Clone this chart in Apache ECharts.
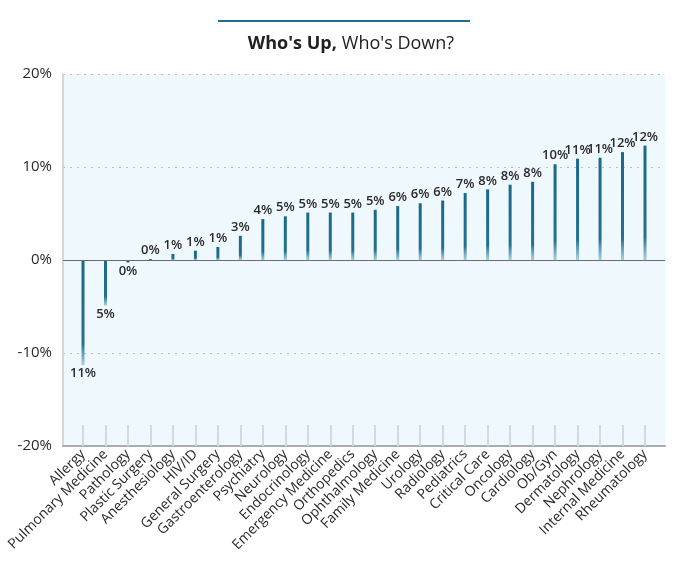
<!DOCTYPE html>
<html>
<head>
<meta charset="utf-8">
<script src="https://cdn.jsdelivr.net/npm/echarts@6/dist/echarts.min.js"></script>
<style>html,body{margin:0;padding:0;background:#fff}#c{width:680px;height:563px}</style>
</head>
<body>
<div id="c"></div>
<script>
const categories = ["Allergy","Pulmonary Medicine","Pathology","Plastic Surgery","Anesthesiology","HIV/ID","General Surgery","Gastroenterology","Psychiatry","Neurology","Endocrinology","Emergency Medicine","Orthopedics","Ophthalmology","Family Medicine","Urology","Radiology","Pediatrics","Critical Care","Oncology","Cardiology","Ob/Gyn","Dermatology","Nephrology","Internal Medicine","Rheumatology"];
const changes = [-11.3,-4.9,-0.3,0.1,0.65,1.0,1.4,2.6,4.4,4.7,5.1,5.1,5.1,5.4,5.8,6.1,6.4,7.2,7.6,8.1,8.4,10.3,10.9,11.0,11.6,12.3];
const yTicks = [-20,-10,0,10,20];

const FONT = '"Open Sans", sans-serif';
const chart = echarts.init(document.getElementById('c'), null, {renderer:'canvas'});
const barData = changes.map(v => ({value: v, label: {position: v < 0 ? 'bottom' : 'top'}}));

chart.setOption({
  animation: false,
  title: {
    text: "{b|Who's Up,} {r|Who's Down?}",
    left: 346, top: 30, textAlign: 'center',
    textStyle: {rich: {
      b: {fontFamily: FONT, fontSize: 18, fontWeight: 'bold', color: '#222'},
      r: {fontFamily: FONT, fontSize: 18, fontWeight: 'normal', color: '#222'}
    }}
  },
  graphic: [{type: 'rect', shape: {x: 218, y: 20, width: 252, height: 2}, style: {fill: '#1f6d8c'}}],
  grid: [
    {left: 63, right: 15, top: 74, bottom: 117, show: true, backgroundColor: '#eef8fd', borderWidth: 0},
    {left: 83, right: 35, top: 74, bottom: 117}
  ],
  xAxis: [
    {gridIndex: 0, type: 'value', min: 0, max: 1, axisLabel: {show: false}, axisTick: {show: false}, splitLine: {show: false},
     axisLine: {show: true, onZero: false, lineStyle: {color: '#a9adb0', width: 2}}},
    {gridIndex: 1, type: 'category', data: categories, boundaryGap: false,
     axisLine: {show: false, onZero: false},
     axisTick: {show: true, inside: true, length: 21, interval: 0, lineStyle: {color: '#d3d9dd', width: 2}},
     axisLabel: {interval: 0, rotate: 45, margin: 6, fontFamily: FONT, fontSize: 14, color: '#2a2a2a'}}
  ],
  yAxis: [
    {gridIndex: 0, type: 'value', min: yTicks[0], max: yTicks[yTicks.length-1], interval: 10,
     axisLine: {show: true, lineStyle: {color: '#c9cdd0', width: 1.5}}, axisTick: {show: false},
     axisLabel: {formatter: '{value}%', fontFamily: FONT, fontSize: 15, fontWeight: 500, color: '#2a2a2a', margin: 11},
     splitLine: {show: true, lineStyle: {type: [2, 5], color: '#b9c0c5', width: 1}}},
    {gridIndex: 1, type: 'value', min: yTicks[0], max: yTicks[yTicks.length-1], interval: 10, show: false, splitLine: {show: false}}
  ],
  series: [
    {type: 'line', xAxisIndex: 0, yAxisIndex: 0, data: [], silent: true,
     markLine: {silent: true, symbol: 'none', label: {show: false}, data: [{yAxis: 0}],
       lineStyle: {color: '#6b6e70', width: 1.2, type: 'solid'}}},
    {type: 'bar', xAxisIndex: 1, yAxisIndex: 1, data: barData, barWidth: 3,
     itemStyle: {color: new echarts.graphic.LinearGradient(0, 0, 0, 1, [
       {offset: 0, color: '#1b6989'}, {offset: 0.8, color: '#23708f'}, {offset: 1, color: 'rgba(150,196,216,0.8)'}])},
     label: {show: true, distance: 2, fontFamily: FONT, fontSize: 13, fontWeight: 600, color: '#2a2a2a',
       formatter: p => Math.round(Math.abs(p.value)) + '%'}}
  ]
});
</script>
</body>
</html>
